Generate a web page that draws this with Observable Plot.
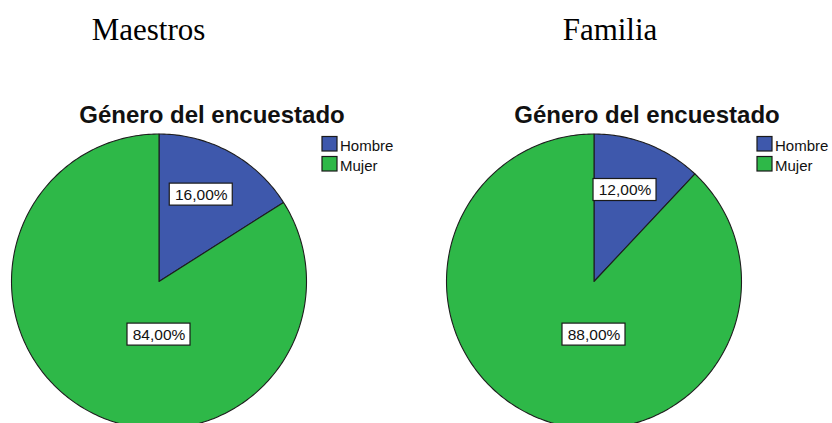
<!DOCTYPE html>
<html>
<head>
<meta charset="utf-8">
<script src="https://cdn.jsdelivr.net/npm/d3@7"></script>
<script src="https://cdn.jsdelivr.net/npm/@observablehq/plot@0.6"></script>
<style>
  html, body { margin: 0; padding: 0; background: #fff; overflow: hidden; }
</style>
</head>
<body>
<div id="chart"></div>
<script>
// ---- data ----
const groups = ["Maestros", "Familia"];
const categories = ["Hombre", "Mujer"];
const maestrosValues = [16, 84];
const familiaValues = [12, 88];
const chartTitle = "Género del encuestado";
const seriesByGroup = [maestrosValues, familiaValues];

// ---- layout (pixels) ----
const W = 832, H = 423;
const PANEL_DX = 435;
const CX = 158.5, CY = 281, R = 147.5;
const groupTitleX = [148, 609.5];
const colors = ["#3e58ac", "#2eb848"];

const slicePts = [];
const labels = [];
const groupTitles = [];
const subTitles = [];
const legendItems = [];

groups.forEach((g, gi) => {
  const cx = CX + gi * PANEL_DX;
  const values = seriesByGroup[gi];
  const total = d3.sum(values);
  const arcs = d3.pie().sort(null)(values);
  arcs.forEach((a, i) => {
    const id = g + "-" + categories[i];
    const cat = categories[i];
    slicePts.push({id, cat, x: cx, y: CY});
    const span = a.endAngle - a.startAngle;
    const n = Math.max(2, Math.ceil(span / (Math.PI / 180)));
    for (let k = 0; k <= n; k++) {
      const t = a.startAngle + span * k / n;
      slicePts.push({id, cat, x: cx + R * Math.sin(t), y: CY - R * Math.cos(t)});
    }
    const share = values[i] / total;
    let lx, ly;
    if (share > 0.5) { lx = cx; ly = CY + 0.36 * R; }
    else {
      const m = (a.startAngle + a.endAngle) / 2 - 0.05;
      lx = cx + 0.655 * R * Math.sin(m); ly = CY - 0.655 * R * Math.cos(m);
    }
    labels.push({x: lx, y: ly, text: (share * 100).toFixed(2).replace(".", ",") + "%"});
    legendItems.push({cat, x: cx + 171, y: 144 + i * 20});
  });
  groupTitles.push({x: groupTitleX[gi], y: 39, text: g});
  subTitles.push({x: cx + 53, y: 122, text: chartTitle});
});

const plot = Plot.plot({
  width: W, height: H,
  margin: 0,
  x: {type: "linear", domain: [0, W], range: [0, W], axis: null},
  y: {type: "linear", domain: [0, H], range: [0, H], axis: null},
  color: {domain: categories, range: colors},
  style: {background: "#fff"},
  marks: [
    Plot.line(slicePts, {x: "x", y: "y", z: "id", fill: "cat", stroke: "#1e1e1e", strokeWidth: 1.1, curve: "linear-closed", clip: true}),
    Plot.rect(labels, {x1: d => d.x - 31.5, x2: d => d.x + 31.5, y1: d => d.y - 11, y2: d => d.y + 11, fill: "#fff", stroke: "#1a1a1a", strokeWidth: 1.2}),
    Plot.text(labels, {x: "x", y: "y", text: "text", fontSize: 15.5, fontFamily: "Liberation Sans, Arial, sans-serif", fill: "#111"}),
    Plot.rect(legendItems, {x1: d => d.x - 7.5, x2: d => d.x + 7.5, y1: d => d.y - 7.5, y2: d => d.y + 7, fill: "cat", stroke: "#1a1a1a", strokeWidth: 1.2}),
    Plot.text(legendItems, {x: d => d.x + 10, y: d => d.y + 6.5, text: "cat", textAnchor: "start", lineAnchor: "bottom", fontSize: 15, fontFamily: "Liberation Sans, Arial, sans-serif", fill: "#111"}),
    Plot.text(subTitles, {x: "x", y: "y", text: "text", lineAnchor: "bottom", fontSize: 24, fontWeight: "bold", fontFamily: "Liberation Sans, Arial, sans-serif", fill: "#111"}),
    Plot.text(groupTitles, {x: "x", y: "y", text: "text", lineAnchor: "bottom", fontSize: 31, fontFamily: "Liberation Serif, Times New Roman, serif", fill: "#000"})
  ]
});
document.getElementById("chart").appendChild(plot);
</script>
</body>
</html>
